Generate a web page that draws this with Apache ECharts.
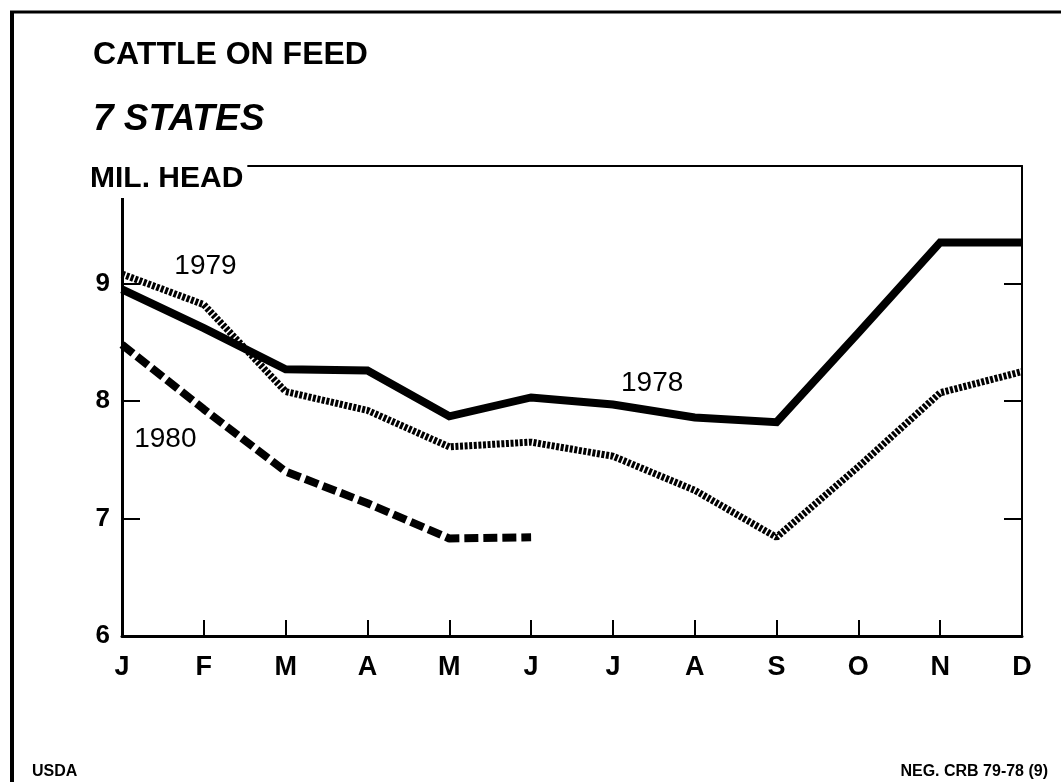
<!DOCTYPE html>
<html>
<head>
<meta charset="utf-8">
<script src="https://cdn.jsdelivr.net/npm/echarts@6/dist/echarts.min.js"></script>
<style>
html,body{margin:0;padding:0;background:#fff;}
#chart{width:1061px;height:782px;}
</style>
</head>
<body>
<div id="chart"></div>
<script>
// ---- data ----
var months = ['J','F','M','A','M','J','J','A','S','O','N','D'];
var yTicks = [6, 7, 8, 9];
var cattle1978 = [8.95, 8.62, 8.27, 8.26, 7.87, 8.03, 7.97, 7.86, 7.82, 8.58, 9.35, 9.35];
var cattle1979 = [9.08, 8.82, 8.08, 7.92, 7.61, 7.65, 7.53, 7.24, 6.84, 7.44, 8.07, 8.25];
var cattle1980 = [8.48, 7.93, 7.40, 7.13, 6.83, 6.84];
var seriesNames = ['1978', '1979', '1980'];
// label anchor positions in data space [monthIndex, value]
var labelPos1978 = [6.48, 8.15];
var labelPos1979 = [1.02, 9.15];
var labelPos1980 = [0.53, 7.67];

var FONT = "'Liberation Sans', Arial, Helvetica, sans-serif";

function pairs(arr) {
  return arr.map(function (v, i) { return [i, v]; });
}
function labelMark(pos, text) {
  return {
    silent: true,
    symbol: 'rect',
    symbolSize: 1,
    itemStyle: { color: 'rgba(0,0,0,0)' },
    label: { show: true, position: 'inside', color: '#000', fontFamily: FONT, fontSize: 28, formatter: text },
    data: [{ coord: pos }]
  };
}

var chart = echarts.init(document.getElementById('chart'), null, { renderer: 'canvas' });
var option = {
  animation: false,
  backgroundColor: '#fff',
  title: [
    { text: 'CATTLE ON FEED', left: 88, top: 34,
      textStyle: { fontFamily: FONT, fontSize: 32, fontWeight: 'bold', color: '#000' } },
    { text: '7 STATES', left: 88, top: 96,
      textStyle: { fontFamily: FONT, fontSize: 37, fontWeight: 'bold', fontStyle: 'italic', color: '#000' } }
  ],
  grid: { left: 122, right: 39, top: 166, bottom: 146, containLabel: false },
  xAxis: [
    {
      type: 'value', min: 0, max: 11, interval: 1, position: 'bottom',
      axisLine: { show: true, lineStyle: { color: '#000', width: 3 } },
      axisTick: { show: true, inside: true, length: 16, lineStyle: { color: '#000', width: 2 } },
      axisLabel: { show: true, margin: 18, color: '#000', fontFamily: FONT, fontSize: 27, fontWeight: 'bold',
        formatter: function (v) { return months[v] || ''; } },
      splitLine: { show: false }
    },
    {
      type: 'value', min: 0, max: 11, interval: 1, position: 'top', z: 0,
      axisLine: { show: true, onZero: false, lineStyle: { color: '#000', width: 2 } },
      axisTick: { show: false }, axisLabel: { show: false }, splitLine: { show: false }
    }
  ],
  yAxis: [
    {
      type: 'value', min: 6, max: 10, interval: 1, position: 'left',
      axisLine: { show: true, lineStyle: { color: '#000', width: 3 } },
      axisTick: { show: true, inside: true, length: 18, lineStyle: { color: '#000', width: 2 } },
      axisLabel: { show: true, margin: 12, color: '#000', fontFamily: FONT, fontSize: 26, fontWeight: 'bold',
        formatter: function (v) { return yTicks.indexOf(v) >= 0 ? String(v) : ''; } },
      splitLine: { show: false }
    },
    {
      type: 'value', min: 6, max: 10, interval: 1, position: 'right',
      axisLine: { show: true, onZero: false, lineStyle: { color: '#000', width: 2 } },
      axisTick: { show: true, inside: true, length: 18, lineStyle: { color: '#000', width: 2 } },
      axisLabel: { show: false }, splitLine: { show: false }
    }
  ],
  series: [
    {
      name: seriesNames[0], type: 'line', data: pairs(cattle1978), symbol: 'none',
      lineStyle: { color: '#000', width: 8, join: 'miter' },
      markPoint: labelMark(labelPos1978, seriesNames[0])
    },
    {
      name: seriesNames[1], type: 'line', data: pairs(cattle1979), symbol: 'none',
      lineStyle: { color: '#000', width: 7, type: [3, 1.6], cap: 'butt' },
      markPoint: labelMark(labelPos1979, seriesNames[1])
    },
    {
      name: seriesNames[2], type: 'line', data: pairs(cattle1980), symbol: 'none',
      lineStyle: { color: '#000', width: 8, type: [14, 5], cap: 'butt' },
      markPoint: labelMark(labelPos1980, seriesNames[2])
    }
  ],
  graphic: [
    { type: 'line', z: 100, shape: { x1: 12, y1: 12, x2: 12, y2: 782 }, style: { stroke: '#000', lineWidth: 4 } },
    { type: 'line', z: 100, shape: { x1: 10, y1: 12, x2: 1061, y2: 12 }, style: { stroke: '#000', lineWidth: 3 } },
    { type: 'text', z: 100, left: 86, top: 160,
      style: { text: 'MIL. HEAD', fill: '#000', font: 'bold 30px ' + FONT,
        backgroundColor: '#fff', padding: [4, 4, 4, 4] } },
    { type: 'text', z: 100, left: 32, top: 764,
      style: { text: 'USDA', fill: '#000', font: 'bold 16px ' + FONT } },
    { type: 'text', z: 100, right: 13, top: 764,
      style: { text: 'NEG. CRB 79-78 (9)', fill: '#000', font: 'bold 16px ' + FONT } }
  ]
};
chart.setOption(option);
</script>
</body>
</html>
